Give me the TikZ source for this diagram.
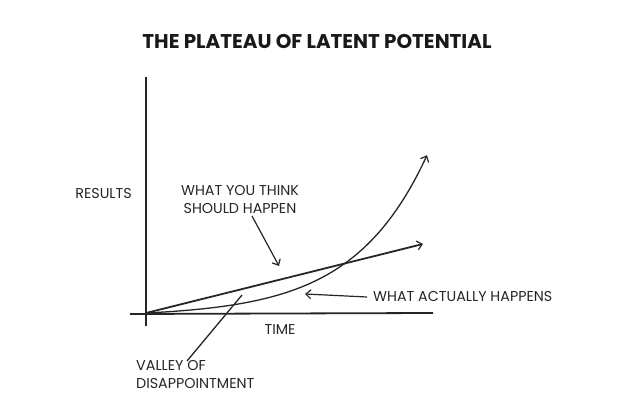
\documentclass[tikz,border=0pt]{standalone}
\usepackage{fontspec}
\setmainfont{Poppins}
\usetikzlibrary{arrows.meta}
\begin{document}
\begin{tikzpicture}[x=1pt,y=-1pt,
  lbl/.style={font=\fontsize{14.3}{18}\selectfont, inner sep=0pt, text=black!85},
  axisline/.style={line width=1.8pt, black!85},
  tip/.style={-{Straight Barb[length=5pt,width=9pt,line width=1.2pt]}},
  ttl/.style={font=\bfseries\fontsize{19.9}{22}\selectfont, inner sep=0pt, text=black!90}]
\useasboundingbox (0,0) rectangle (625,411);
\fill[white] (0,0) rectangle (625,411);
\node[ttl] (title) at (317,41) {THE PLATEAU OF LATENT POTENTIAL};
% axes
\coordinate (ytop) at (146,77);
\coordinate (ybot) at (146,326);
\coordinate (xl) at (130,314);
\coordinate (xr) at (433,313);
\coordinate (o) at (146,313);
\draw[axisline] (ytop) -- (ybot);
\draw[axisline] (xl) -- (xr);
% straight expectation line
\coordinate (lineend) at (423,244);
\draw[line width=1.8pt, black!85, tip] (o) -- (lineend);
% actual curve
\draw[line width=1.3pt, black!85, tip] plot[domain=146:427, samples=80, smooth] (\x, {313 - 3.63*(exp(0.0135*(\x-146))-1)});
% labels
\node[lbl, anchor=east] (results) at (132,194) {RESULTS};
\node[lbl, align=center] (think) at (240,199.5) {WHAT YOU THINK\\SHOULD HAPPEN};
\node[lbl, anchor=west] (actual) at (373,297) {WHAT ACTUALLY HAPPENS};
\node[lbl] (time) at (280,330) {TIME};
\node[lbl, align=left, anchor=west] (valley) at (136,374.5) {VALLEY OF\\DISAPPOINTMENT};
% label connectors
\coordinate (thinkstart) at (252,216);
\coordinate (thinkend) at (279,266);
\draw[line width=1.2pt, black!85, tip] (thinkstart) -- (thinkend);
\coordinate (actstart) at (367,297);
\coordinate (actend) at (305,294);
\draw[line width=1.2pt, black!85, tip] (actstart) -- (actend);
\coordinate (valtop) at (242,295);
\coordinate (valbot) at (187,361);
\draw[line width=1.3pt, black!85] (valtop) -- (valbot);
\end{tikzpicture}
\end{document}
